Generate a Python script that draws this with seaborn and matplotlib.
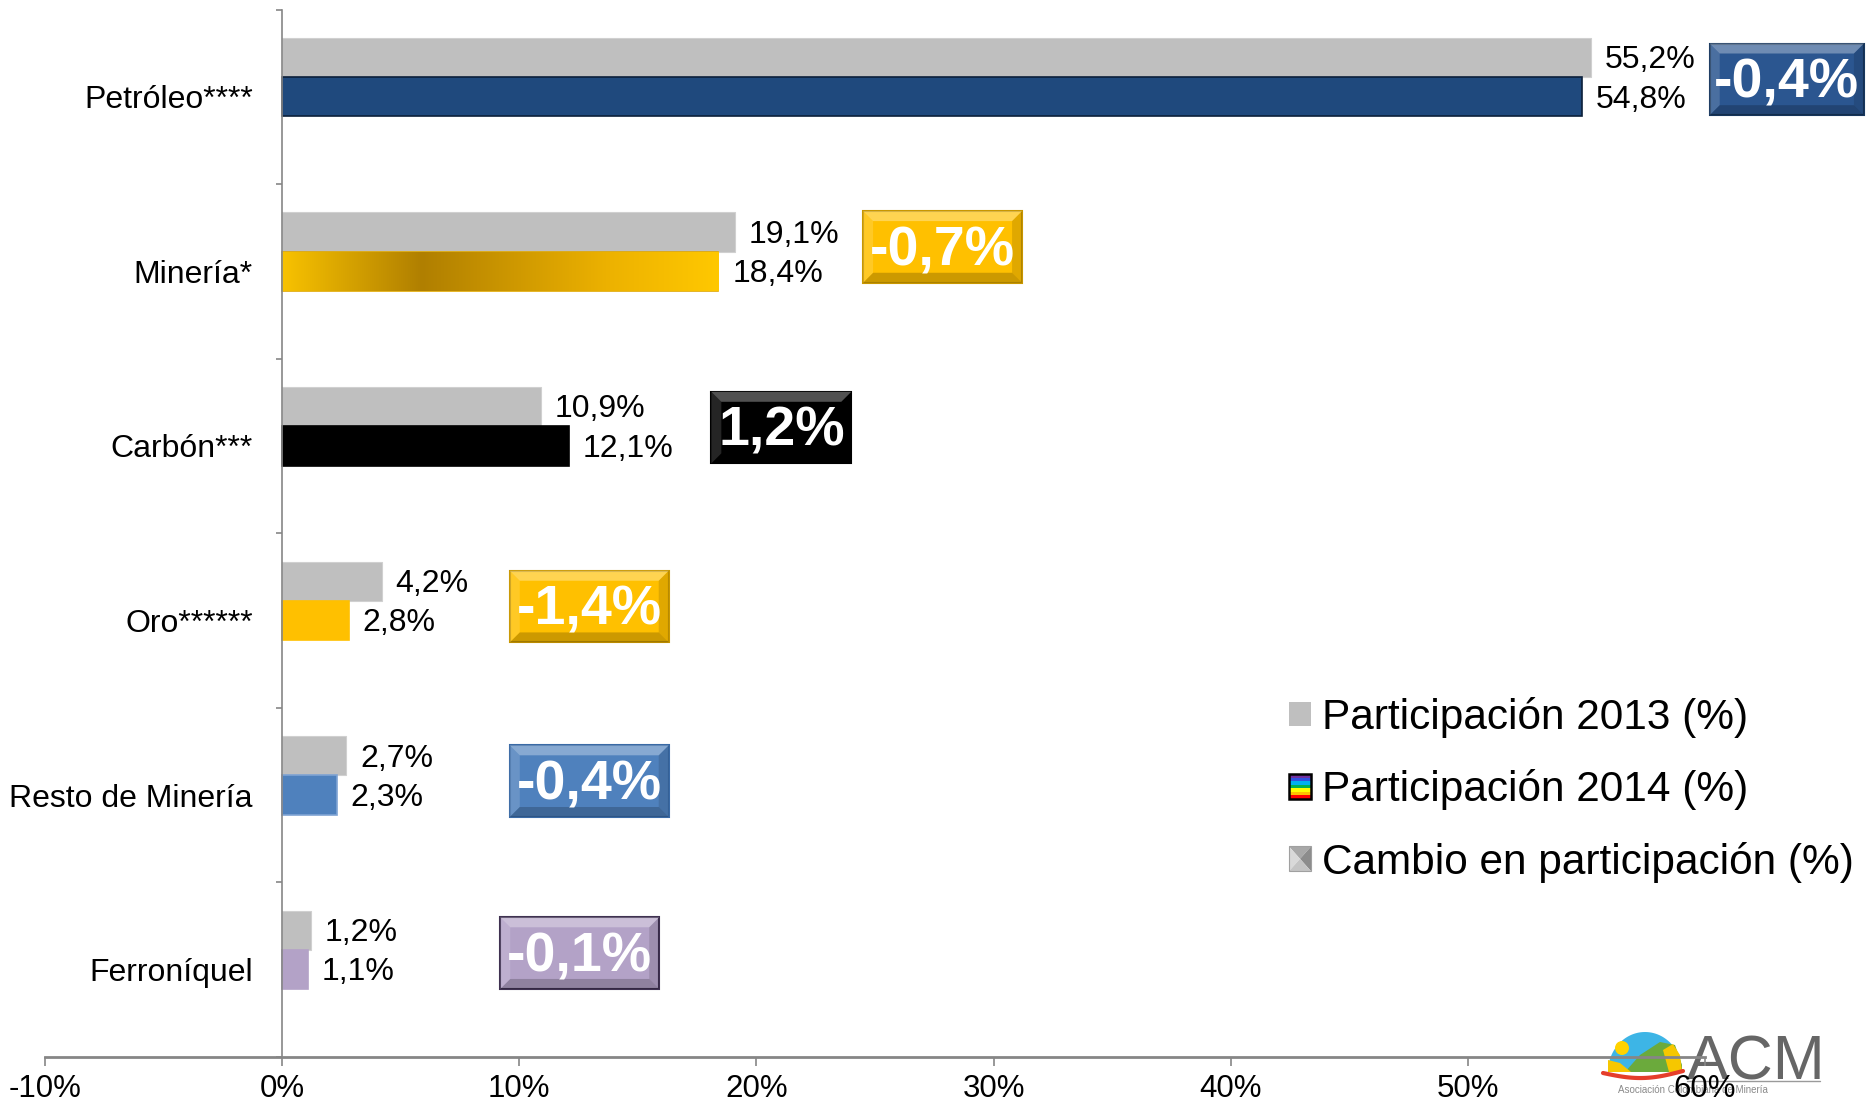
import numpy as np
import pandas as pd
import matplotlib
matplotlib.use("Agg")
import matplotlib.pyplot as plt
import seaborn as sns
from matplotlib.patches import Rectangle, Polygon, Circle
from matplotlib.legend_handler import HandlerBase
from matplotlib.colors import LinearSegmentedColormap

# ---------------- data ----------------
categorias = ["Petróleo****", "Minería*", "Carbón***", "Oro******", "Resto de Minería", "Ferroníquel"]
part_2013 = [55.2, 19.1, 10.9, 4.2, 2.7, 1.2]
part_2014 = [54.8, 18.4, 12.1, 2.8, 2.3, 1.1]
cambio = [-0.4, -0.7, 1.2, -1.4, -0.4, -0.1]
ticks_x = [-10, 0, 10, 20, 30, 40, 50, 60]
series = ["Participación 2013 (%)", "Participación 2014 (%)", "Cambio en participación (%)"]

# ---------------- styles / layout ----------------
col_2013 = "#BFBFBF"
col_2014 = ["#1F497D", "#F5BD00", "#000000", "#FFC000", "#4F81BD", "#B3A2C7"]
edge_2014 = ["#0B1F3A", "#E0A800", "#000000", "#FFC000", "#7FA3D3", "#B3A2C7"]
box_face = ["#2B5690", "#FFC000", "#000000", "#FFC000", "#4F81BD", "#B3A2C7"]
box_edge = ["#17375E", "#C99700", "#000000", "#C99700", "#3A6AA5", "#3F3151"]
box_gap = [5.0, 5.4, 6.0, 5.4, 6.9, 8.0]      # distance from longest bar to change box
box_w = [6.5, 6.7, 5.9, 6.7, 6.7, 6.7]
box_dy = [-0.10, -0.14, -0.105, -0.08, -0.08, -0.095]
box_h = 0.41

W, H = 1866, 1109


def fmt(v):
    return f"{v:.1f}%".replace(".", ",")


sns.set_theme(style="white")
plt.rcParams["font.family"] = ["Liberation Sans", "DejaVu Sans"]
plt.rcParams["text.color"] = "black"

fig = plt.figure(figsize=(W / 100, H / 100), dpi=100)

# ---------------- logo (behind the axes) ----------------
lax = fig.add_axes([1585 / W, (H - 1100) / H, 245 / W, 75 / H])
lax.set_xlim(0, 245)
lax.set_ylim(0, 75)
lax.axis("off")
lax.set_zorder(0)
th = np.linspace(0, np.pi, 60)
dome = np.column_stack([60 + 37 * np.cos(th), 28 + 40 * np.sin(th)])
lax.add_patch(Polygon(dome, closed=True, fc="#3DB5E6", ec="none"))
lax.add_patch(Polygon([(40, 28), (55, 45), (75, 58), (90, 55), (97, 35), (97, 28)], fc="#6BAA3C", ec="none"))
lax.add_patch(Polygon([(78, 50), (88, 56), (95, 45), (97, 28), (84, 28)], fc="#F6C700", ec="none"))
lax.add_patch(Polygon([(23, 28), (23, 40), (35, 37), (46, 28)], fc="#F6C700", ec="none"))
lax.add_patch(Circle((37, 52), 7, fc="#FFD200", ec="none"))
xs = np.linspace(18, 98, 40)
lax.plot(xs, 27 - 6 * np.sin((xs - 18) / 80 * np.pi) + 2 * (xs - 18) / 80, color="#E53E2B", lw=3,
         solid_capstyle="round")
lax.text(102, 21, "ACM", fontsize=45, color="#666666", ha="left", va="baseline")
lax.plot([102, 235], [19, 19], color="#9A9A9A", lw=1)
lax.text(33, 10, "Asociación Colombiana de Minería", fontsize=7, color="#8A8A8A", ha="left", va="center")

# ---------------- main axes ----------------
ax = fig.add_axes([45 / W, 52 / H, (1705 - 45) / W, (1057 - 9.5) / H])
ax.set_zorder(1)
ax.patch.set_alpha(0)

df = pd.DataFrame({
    "categoria": categorias * 2,
    "serie": [series[0]] * len(categorias) + [series[1]] * len(categorias),
    "valor": part_2013 + part_2014,
})
sns.barplot(data=df, x="valor", y="categoria", hue="serie", hue_order=series, order=categorias,
            palette={series[0]: col_2013, series[1]: col_2014[0], series[2]: "#A6A6A6"},
            orient="h", width=0.675, errorbar=None, saturation=1, legend=False, ax=ax)

bars13 = ax.containers[0]
bars14 = ax.containers[1]
for p in bars13:
    p.set_facecolor(col_2013)
    p.set_edgecolor("#D0D0D0")
    p.set_linewidth(0.8)
for i, p in enumerate(bars14):
    p.set_facecolor(col_2014[i])
    p.set_edgecolor(edge_2014[i])
    p.set_linewidth(1.2)

# gold gradient on Minería 2014 bar
gold = LinearSegmentedColormap.from_list(
    "gold", [(0, "#F8C200"), (0.32, "#B07F00"), (0.75, "#EDB200"), (1, "#FFC800")])
p = bars14[1]
x0, y0, w, h = p.get_x(), p.get_y(), p.get_width(), p.get_height()
im = ax.imshow(np.linspace(0, 1, 256)[None, :], cmap=gold, aspect="auto",
               extent=(x0, x0 + w, y0 + h, y0), zorder=p.get_zorder() + 0.1)
im.set_clip_path(p)

ax.set_xlim(-10, 60)
ax.set_ylim(len(categorias) - 0.5, -0.5)

# data labels
for i in range(len(categorias)):
    for bars, vals in ((bars13, part_2013), (bars14, part_2014)):
        b = bars[i]
        ax.annotate(fmt(vals[i]), xy=(vals[i], b.get_y() + b.get_height() / 2),
                    xytext=(10, -2), textcoords="offset points",
                    ha="left", va="center", fontsize=23, color="black")

# change boxes (labels of the "Cambio" series)
bx = 0.42     # bevel in x data units
by = 0.057    # bevel in y data units
for i, c in enumerate(cambio):
    left = max(part_2013[i], part_2014[i]) + box_gap[i]
    right = left + box_w[i]
    yc = i + box_dy[i]
    top = yc - box_h / 2
    bot = yc + box_h / 2
    kw = dict(clip_on=False, zorder=6)
    ax.add_patch(Rectangle((left, top), box_w[i], box_h, fc=box_face[i], ec=box_edge[i], lw=1.5, **kw))
    # bevel facets
    ax.add_patch(Polygon([(left, top), (right, top), (right - bx, top + by), (left + bx, top + by)],
                         fc="white", alpha=0.32, ec="none", **kw))
    ax.add_patch(Polygon([(left, top), (left + bx, top + by), (left + bx, bot - by), (left, bot)],
                         fc="white", alpha=0.15, ec="none", **kw))
    ax.add_patch(Polygon([(right, top), (right, bot), (right - bx, bot - by), (right - bx, top + by)],
                         fc="black", alpha=0.12, ec="none", **kw))
    ax.add_patch(Polygon([(left, bot), (right, bot), (right - bx, bot - by), (left + bx, bot - by)],
                         fc="black", alpha=0.2, ec="none", **kw))
    ax.annotate(fmt(c), xy=((left + right) / 2, yc), xytext=(0, -3), textcoords="offset points",
                ha="center", va="center", fontsize=40, fontweight="bold", color="white",
                annotation_clip=False, zorder=7)

# axes styling
for s in ("top", "right"):
    ax.spines[s].set_visible(False)
ax.spines["left"].set_position(("data", 0))
ax.spines["left"].set_color("#868686")
ax.spines["left"].set_linewidth(1.2)
ax.spines["bottom"].set_color("#868686")
ax.spines["bottom"].set_linewidth(2)

ax.set_xticks(ticks_x)
ax.set_xticklabels([f"{t}%" for t in ticks_x])
ax.set_yticks(range(len(categorias)))
ax.set_yticklabels(categorias)
ax.set_yticks(np.arange(-0.5, len(categorias), 1), minor=True)
ax.tick_params(axis="x", which="major", bottom=True, length=6.5, width=1.2, color="#868686",
               labelsize=22.5, pad=6, labelcolor="black", direction="out")
ax.tick_params(axis="y", which="major", left=True, length=0, pad=21, labelsize=23, labelcolor="black")
ax.tick_params(axis="y", which="minor", left=True, length=4.3, width=1.2, color="#868686", direction="out")
ax.set_xlabel("")
ax.set_ylabel("")
ax.grid(False)


# ---------------- legend ----------------
class RainbowHandler(HandlerBase):
    def create_artists(self, legend, orig_handle, xdescent, ydescent, width, height, fontsize, trans):
        cols = ["#7030A0", "#3050E0", "#00B0F0", "#00B050", "#FFFF00", "#FFC000", "#FF0000"]
        n = len(cols)
        arts = []
        for k, col in enumerate(cols):
            arts.append(Rectangle((-xdescent, -ydescent + height * (n - 1 - k) / n), width, height / n,
                                  fc=col, ec="none", transform=trans))
        arts.append(Rectangle((-xdescent, -ydescent), width, height, fc="none", ec="black", lw=1.8,
                              transform=trans))
        return arts


class BevelHandler(HandlerBase):
    def create_artists(self, legend, orig_handle, xdescent, ydescent, width, height, fontsize, trans):
        x0, y0 = -xdescent, -ydescent
        x1, y1 = x0 + width, y0 + height
        cx, cy = (x0 + x1) / 2, (y0 + y1) / 2
        facets = [
            ([(x0, y1), (x1, y1), (cx, cy)], "#A8A8A8"),
            ([(x0, y0), (x0, y1), (cx, cy)], "#D9D9D9"),
            ([(x1, y0), (x1, y1), (cx, cy)], "#8C8C8C"),
            ([(x0, y0), (x1, y0), (cx, cy)], "#C4C4C4"),
        ]
        arts = [Polygon(pts, closed=True, fc=col, ec="none", transform=trans) for pts, col in facets]
        arts.append(Rectangle((x0, y0), width, height, fc="none", ec="#A0A0A0", lw=0.8, transform=trans))
        return arts


h1 = Rectangle((0, 0), 1, 1, fc=col_2013, ec="none")
h2 = Rectangle((0, 0), 1, 1)
h3 = Rectangle((0, 0), 1, 1)
fig.legend([h1, h2, h3], series, handler_map={h2: RainbowHandler(), h3: BevelHandler()},
           loc="center left", bbox_to_anchor=(1289 / W, (H - 790) / H), bbox_transform=fig.transFigure,
           frameon=False, fontsize=30.5, handlelength=0.52, handleheight=0.52, handletextpad=0.26,
           labelspacing=0.74, borderpad=0, borderaxespad=0, labelcolor="black")

fig.savefig("out.png", dpi=100)
